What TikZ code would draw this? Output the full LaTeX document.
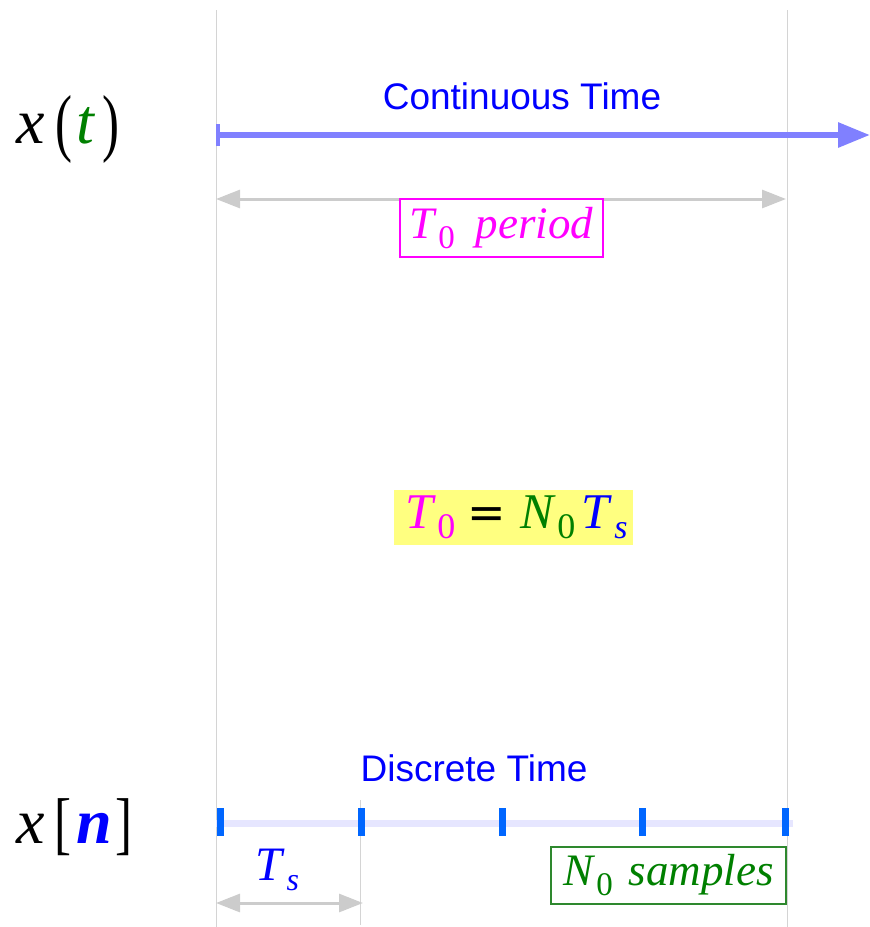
\documentclass[tikz,border=0pt]{standalone}
\usepackage{fontspec}
\setmainfont{Liberation Serif}
\newfontfamily\labelsans{Liberation Sans}
\newfontfamily\eqfont{DejaVu Sans}
\usetikzlibrary{arrows.meta}
\definecolor{arrowblue}{HTML}{8080FF}
\definecolor{tickblue}{HTML}{0066FF}
\definecolor{lav}{HTML}{E6E6FF}
\definecolor{guide}{HTML}{D4D4D4}
\definecolor{dimgray}{HTML}{CCCCCC}
\definecolor{mag}{HTML}{FF00FF}
\definecolor{grn}{HTML}{008000}
\definecolor{blu}{HTML}{0000FF}
\definecolor{boxgrn}{HTML}{2E882E}
\definecolor{hiyel}{HTML}{FFFF80}
\newcommand{\fs}[1]{\fontsize{#1}{#1}\selectfont}
\newcommand{\lowsub}[3]{\raisebox{-#2pt}{\fs{#3}#1}}
\begin{document}
\begin{tikzpicture}[x=1pt,y=-1pt,
  guideline/.style={guide, line width=1pt},
  dimarrow/.style={dimgray, line width=3pt, {Triangle[length=24pt,width=18pt]}-{Triangle[length=24pt,width=18pt]}},
  sanslabel/.style={text=blu, font=\labelsans\fs{37}, inner sep=0pt},
  glyph/.style={inner sep=0pt, anchor=base},
  tickmark/.style={fill=tickblue, draw=none, minimum width=7pt, minimum height=28pt, inner sep=0pt}
]
\useasboundingbox (0,0) rectangle (870,927);
% guide lines
\coordinate (gl1) at (216,10); \coordinate (gl2) at (216,927);
\coordinate (gr1) at (787,10); \coordinate (gr2) at (787,927);
\coordinate (gm1) at (360,800); \coordinate (gm2) at (360,925);
\draw[guideline] (gl1) -- (gl2);
\draw[guideline] (gr1) -- (gr2);
\draw[guideline] (gm1) -- (gm2);

% continuous time
\node[sanslabel] (ct) at (522,96) {Continuous Time};
\coordinate (ca) at (216,135); \coordinate (cb) at (870,135);
\draw[arrowblue, line width=6pt, {Bar[width=22pt,line width=3.5pt]}-{Triangle[length=32pt,width=24pt]}] (ca) -- (cb);

% period arrow
\coordinate (pa) at (216,199); \coordinate (pb) at (786,199);
\draw[dimarrow] (pa) -- (pb);
\node[draw=mag, line width=1.3pt, fill=white, minimum width=203pt, minimum height=58pt, inner sep=0pt, text=mag] (per) at (501.5,228)
  {\fs{45}\textit{T}\hspace{1pt}\lowsub{0}{10}{33}\hspace{21pt}\textit{period}};

% x(t)
\node[glyph, font=\fs{64}] (xt) at (31,143) {\textit{x}};
\node[glyph, font=\fs{60}, yscale=1.25, xscale=0.85] (lp1) at (64,147) {(};
\node[glyph, font=\fs{64}, text=grn] (tt) at (86,143) {\textit{t}};
\node[glyph, font=\fs{60}, yscale=1.25, xscale=0.85] (rp1) at (111,147) {)};

% equation
\node[fill=hiyel, minimum width=239pt, minimum height=55pt, inner sep=0pt] (eq) at (513.5,517.5)
  {\hspace{6pt}\fs{50}\textcolor{mag}{\textit{T}\hspace{1pt}\lowsub{0}{10}{36}}\hspace{12pt}{\eqfont\fs{46}=}\hspace{15pt}\textcolor{grn}{\textit{N}\hspace{1pt}\lowsub{0}{10}{36}}\hspace{6pt}\textcolor{blu}{\textit{T}\hspace{2pt}\raisebox{-10pt}{\fs{34}\textit{s}}}};

% discrete time
\node[sanslabel] (dt) at (474,768) {Discrete Time};
\coordinate (da) at (216,823); \coordinate (db) at (793,823);
\draw[lav, line width=7pt] (da) -- (db);
\node[tickmark] (t1) at (220,822) {};
\node[tickmark] (t2) at (361,822) {};
\node[tickmark] (t3) at (502,822) {};
\node[tickmark] (t4) at (642,822) {};
\node[tickmark] (t5) at (785,822) {};

% x[n]
\node[glyph, font=\fs{64}] (xn) at (31,843) {\textit{x}};
\node[glyph, font=\fs{60}, yscale=1.15, xscale=0.85] (lb) at (63,846) {[};
\node[glyph, font=\fs{64}, text=blu] (nn) at (94,843) {\textbf{\textit{n}}};
\node[glyph, font=\fs{60}, yscale=1.15, xscale=0.85] (rb) at (124,846) {]};

% Ts
\node[inner sep=0pt, text=blu] (ts) at (277,870) {\fs{48}\textit{T}\hspace{2pt}\raisebox{-10pt}{\fs{32}\textit{s}}};
\coordinate (sa) at (216,903); \coordinate (sb) at (363,903);
\draw[dimarrow] (sa) -- (sb);

% N0 samples
\node[draw=boxgrn, line width=1.3pt, fill=white, minimum width=235pt, minimum height=57pt, inner sep=0pt, text=grn] (ns) at (668.5,875.5)
  {\fs{45}\textit{N}\hspace{1pt}\lowsub{0}{10}{33}\hspace{16pt}\textit{samples}};
\end{tikzpicture}
\end{document}
